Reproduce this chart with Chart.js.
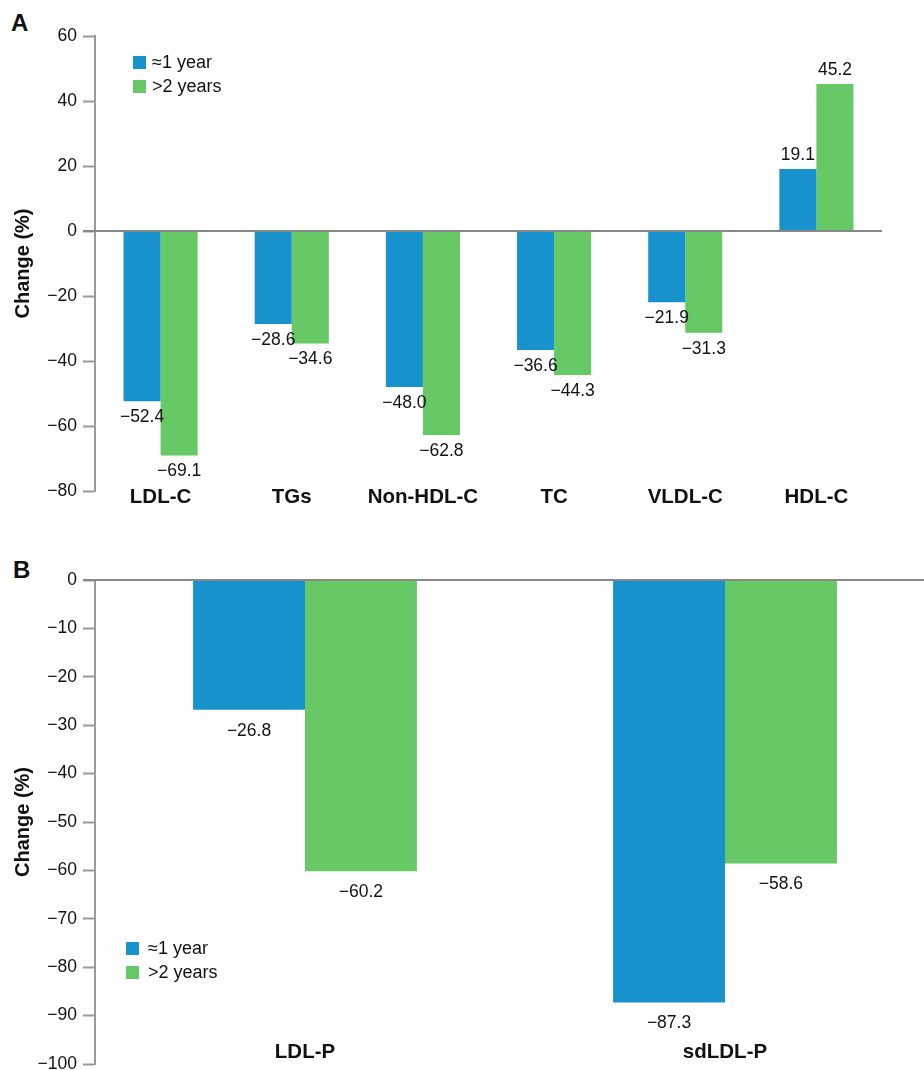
<!DOCTYPE html>
<html>
<head>
<meta charset="utf-8">
<script src="https://cdn.jsdelivr.net/npm/chart.js@4.4.1/dist/chart.umd.min.js"></script>
<style>
  html, body { margin: 0; padding: 0; background: #fff; overflow: hidden; }
  body { width: 924px; height: 1070px; position: relative; font-family: "Liberation Sans", Arial, sans-serif; }
  .panel { position: absolute; left: 0; }
  .letter { position: absolute; font-weight: bold; font-size: 24px; color: #111; }
</style>
</head>
<body>
<div class="letter" style="left:11px; top:9px;">A</div>
<div class="letter" style="left:13px; top:556px;">B</div>
<div class="panel" style="top:0; width:924px; height:515px;"><canvas id="chartA"></canvas></div>
<div class="panel" style="top:540px; width:940px; height:545px;"><canvas id="chartB"></canvas></div>
<script>
// panel A data
const lipidCategories = ['LDL-C', 'TGs', 'Non-HDL-C', 'TC', 'VLDL-C', 'HDL-C'];
const lipidOneYear = [-52.4, -28.6, -48.0, -36.6, -21.9, 19.1];
const lipidTwoYears = [-69.1, -34.6, -62.8, -44.3, -31.3, 45.2];

// panel B data
const particleCategories = ['LDL-P', 'sdLDL-P'];
const particleOneYear = [-26.8, -87.3];
const particleTwoYears = [-60.2, -58.6];

const seriesLabels = ['\u22481 year', '>2 years'];
const BLUE = '#1792cc';
const GREEN = '#66c966';
const AXIS_GREY = '#999999';
const FONT = '"Liberation Sans", Arial, sans-serif';

function fmt(v) {
    let s = Math.abs(v).toFixed(1);
    return v < 0 ? '\u2212' + s : s;
}

function fmtTick(v) {
    return v < 0 ? '\u2212' + Math.abs(v) : String(v);
}

// draws zero line, value labels, category labels and legend
const decorations = {
    id: 'decorations',
    afterDatasetsDraw(chart, args, opts) {
        const ctx = chart.ctx;
        const area = chart.chartArea;
        const x = chart.scales.x;
        const y = chart.scales.y;

        ctx.save();
        // zero line
        const y0 = y.getPixelForValue(0);
        ctx.strokeStyle = '#888888';
        ctx.lineWidth = 2;
        ctx.beginPath();
        ctx.moveTo(area.left - 12, y0);
        ctx.lineTo(area.right, y0);
        ctx.stroke();

        // value labels
        ctx.fillStyle = '#111';
        ctx.font = '17.5px ' + FONT;
        ctx.textAlign = 'center';
        ctx.textBaseline = 'middle';
        chart.data.datasets.forEach((ds, di) => {
            chart.getDatasetMeta(di).data.forEach((bar, i) => {
                const v = ds.data[i];
                const ty = v < 0 ? bar.y + opts.below : bar.y - opts.above;
                ctx.fillText(fmt(v), bar.x, ty);
            });
        });

        // category labels
        ctx.font = 'bold 20.5px ' + FONT;
        chart.data.labels.forEach((lab, i) => {
            ctx.fillText(lab, x.getPixelForValue(i), area.bottom + opts.catOffset);
        });

        // legend
        ctx.textAlign = 'left';
        ctx.font = '18px ' + FONT;
        chart.data.datasets.forEach((ds, di) => {
            const lx = area.left + opts.legendX;
            const ly = area.top + opts.legendY + di * 24;
            ctx.fillStyle = ds.backgroundColor;
            ctx.fillRect(lx, ly, 13, 13);
            ctx.fillStyle = '#111';
            ctx.fillText(ds.label, lx + 13 + opts.legendGap, ly + 7);
        });
        ctx.restore();
    }
};

function makeChart(id, labels, one, two, yMin, yMax, step, catPct, padding, deco) {
    return new Chart(document.getElementById(id), {
        type: 'bar',
        data: {
            labels: labels,
            datasets: [
                { label: seriesLabels[0], data: one, backgroundColor: BLUE, borderWidth: 0 },
                { label: seriesLabels[1], data: two, backgroundColor: GREEN, borderWidth: 0 }
            ]
        },
        options: {
            responsive: true,
            maintainAspectRatio: false,
            animation: false,
            layout: { padding: padding },
            datasets: { bar: { categoryPercentage: catPct, barPercentage: 1 } },
            scales: {
                x: { display: false },
                y: {
                    min: yMin,
                    max: yMax,
                    afterFit: function (scale) { scale.width = 95; },
                    ticks: {
                        stepSize: step,
                        color: '#111',
                        padding: 6,
                        font: { family: FONT, size: 17.5 },
                        callback: v => fmtTick(v)
                    },
                    grid: {
                        drawOnChartArea: false,
                        drawTicks: true,
                        tickLength: 12,
                        tickColor: AXIS_GREY,
                        tickWidth: 2
                    },
                    border: { color: AXIS_GREY, width: 2 },
                    title: {
                        display: true,
                        text: 'Change (%)',
                        color: '#111',
                        font: { family: FONT, size: 20, weight: 'bold' },
                        padding: { top: 11, bottom: 0 }
                    }
                }
            },
            plugins: {
                legend: { display: false },
                tooltip: { enabled: false },
                decorations: deco
            }
        },
        plugins: [decorations]
    });
}

makeChart('chartA', lipidCategories, lipidOneYear, lipidTwoYears, -80, 60, 20, 0.565,
    { top: 36, right: 42, bottom: 24, left: 0 },
    { below: 16, above: 14, catOffset: 6, legendX: 38, legendY: 20, legendGap: 6 });

makeChart('chartB', particleCategories, particleOneYear, particleTwoYears, -100, 0, 10, 0.533,
    { top: 40, right: 5, bottom: 21, left: 0 },
    { below: 21, above: 14, catOffset: -12, legendX: 31, legendY: 362, legendGap: 9 });
</script>
</body>
</html>
